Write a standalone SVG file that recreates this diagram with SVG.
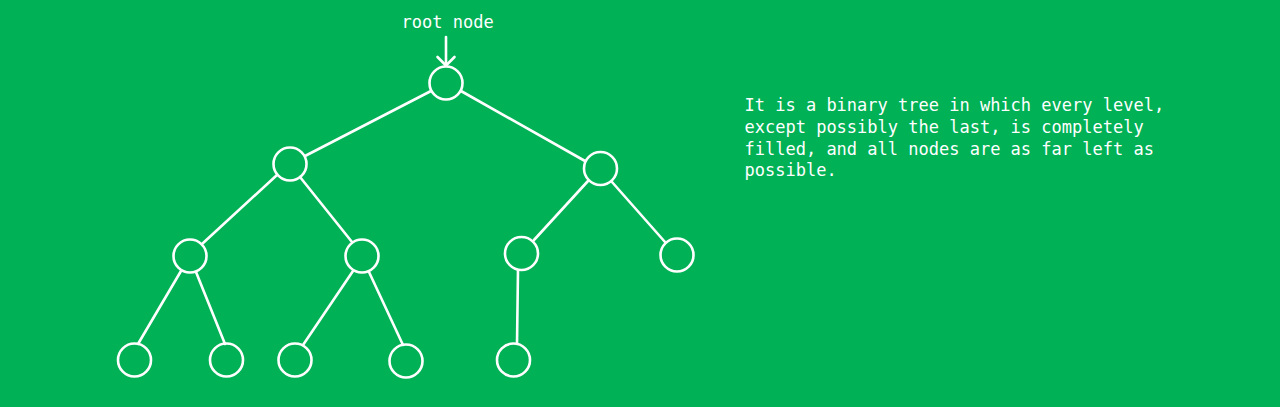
<svg xmlns="http://www.w3.org/2000/svg" width="1280" height="407" viewBox="0 0 1280 407">
<style>
.node circle{fill:none;stroke:#fff;stroke-width:2.6}
.edges line{stroke:#fff;stroke-width:2.6;stroke-linecap:round}
text{font-family:"DejaVu Sans Mono","Liberation Mono",monospace;font-size:17px;fill:#fff}
</style>
<rect width="1280" height="407" fill="#00b156"/>
<g id="connectors" class="edges">
<line x1="431" y1="91" x2="305" y2="156"/>
<line x1="461" y1="91" x2="585" y2="161"/>
<line x1="277" y1="175" x2="202" y2="244"/>
<line x1="300" y1="177" x2="352" y2="242"/>
<line x1="588" y1="181" x2="534" y2="240"/>
<line x1="612" y1="182" x2="665" y2="242"/>
<line x1="181" y1="271" x2="138" y2="344"/>
<line x1="196" y1="272" x2="225" y2="344"/>
<line x1="353" y1="271" x2="303" y2="345"/>
<line x1="369" y1="272" x2="403" y2="345"/>
<line x1="518" y1="270" x2="517" y2="344"/>
<line x1="446" y1="37" x2="446" y2="65"/>
<polyline points="437.5,57 446,65.5 454.5,57" fill="none" stroke="#fff" stroke-width="2.6" stroke-linecap="round" stroke-linejoin="round"/>
</g>
<g id="n-root" class="node"><circle cx="446" cy="83" r="16.5"/></g>
<g id="n-l" class="node"><circle cx="290" cy="164" r="16.5"/></g>
<g id="n-r" class="node"><circle cx="600.5" cy="168.5" r="16.5"/></g>
<g id="n-ll" class="node"><circle cx="190" cy="256" r="16.5"/></g>
<g id="n-lr" class="node"><circle cx="362" cy="256" r="16.5"/></g>
<g id="n-rl" class="node"><circle cx="521.5" cy="253.5" r="16.5"/></g>
<g id="n-rr" class="node"><circle cx="677" cy="255" r="16.5"/></g>
<g id="n-lll" class="node"><circle cx="134.5" cy="360" r="16.5"/></g>
<g id="n-llr" class="node"><circle cx="226.5" cy="360" r="16.5"/></g>
<g id="n-lrl" class="node"><circle cx="295" cy="360" r="16.5"/></g>
<g id="n-lrr" class="node"><circle cx="406" cy="361" r="16.5"/></g>
<g id="n-rll" class="node"><circle cx="513.5" cy="360" r="16.5"/></g>
<g id="labels">
<text x="401.5" y="28">root node</text>
<text x="744.5" y="111">It is a binary tree in which every level,</text>
<text x="744.5" y="133">except possibly the last, is completely</text>
<text x="744.5" y="154.5">filled, and all nodes are as far left as</text>
<text x="744.5" y="176">possible.</text>
</g>
</svg>
